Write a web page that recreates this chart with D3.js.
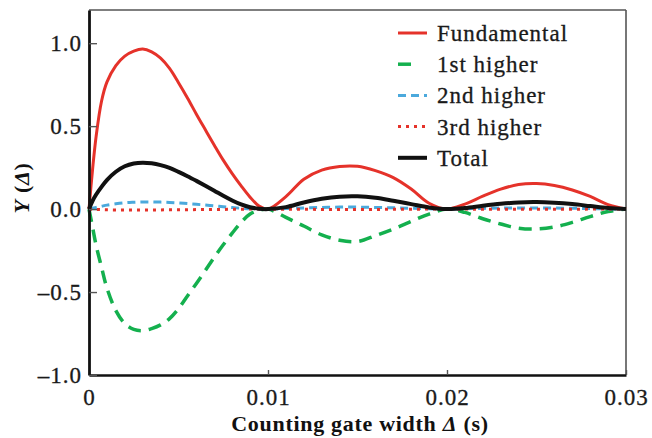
<!DOCTYPE html>
<html>
<head>
<meta charset="utf-8">
<script src="https://cdn.jsdelivr.net/npm/d3@7"></script>
<style>
  body { margin: 0; background: #fff; }
  svg { display: block; }
  svg text { font-family: "Liberation Serif", "Times New Roman", Times, serif; }
</style>
</head>
<body>
<svg id="chart" width="652" height="438"></svg>
<script>
// counting gate width (s)
const gateWidth = [0, 0.0002, 0.0004, 0.0007, 0.001, 0.0015, 0.002, 0.0025, 0.003, 0.0035, 0.004,
  0.0045, 0.005, 0.0055, 0.006, 0.0065, 0.007, 0.0075, 0.008, 0.0085, 0.009, 0.0095, 0.01,
  0.011, 0.012, 0.013, 0.014, 0.015, 0.016, 0.017, 0.018, 0.019, 0.02,
  0.021, 0.022, 0.023, 0.024, 0.025, 0.026, 0.027, 0.028, 0.029, 0.03];

const fundamental = [0, 0.24, 0.44, 0.65, 0.765, 0.865, 0.922, 0.952, 0.965, 0.948, 0.91,
  0.848, 0.762, 0.67, 0.572, 0.478, 0.385, 0.295, 0.214, 0.14, 0.072, 0.018, 0,
  0.075, 0.18, 0.235, 0.257, 0.258, 0.232, 0.19, 0.121, 0.035, 0,
  0.03, 0.078, 0.12, 0.148, 0.154, 0.142, 0.115, 0.076, 0.027, 0];

const firstHigher = [0, -0.11, -0.22, -0.35, -0.475, -0.612, -0.69, -0.725, -0.733, -0.72, -0.698,
  -0.66, -0.6, -0.524, -0.448, -0.37, -0.29, -0.215, -0.145, -0.08, -0.03, -0.008, 0,
  -0.05, -0.102, -0.155, -0.188, -0.196, -0.16, -0.12, -0.074, -0.03, 0,
  -0.02, -0.058, -0.09, -0.115, -0.12, -0.108, -0.08, -0.045, -0.015, 0];

const secondHigher = [0, 0.005, 0.01, 0.017, 0.024, 0.032, 0.038, 0.041, 0.043, 0.043, 0.042,
  0.04, 0.037, 0.033, 0.029, 0.024, 0.019, 0.014, 0.009, 0.005, 0.002, 0.001, 0,
  0.003, 0.007, 0.01, 0.012, 0.012, 0.01, 0.008, 0.005, 0.002, 0,
  0.002, 0.004, 0.006, 0.007, 0.007, 0.006, 0.005, 0.003, 0.001, 0];

const thirdHigher = [0, -0.001, -0.002, -0.003, -0.004, -0.005, -0.005, -0.005, -0.005, -0.005, -0.005,
  -0.004, -0.004, -0.004, -0.003, -0.003, -0.002, -0.002, -0.001, -0.001, 0, 0, 0,
  -0.001, -0.001, -0.002, -0.002, -0.002, -0.002, -0.001, -0.001, 0, 0,
  0, -0.001, -0.001, -0.001, -0.001, -0.001, -0.001, 0, 0, 0];

const total = [0, 0.05, 0.088, 0.134, 0.175, 0.225, 0.258, 0.275, 0.28, 0.276, 0.265,
  0.248, 0.224, 0.198, 0.17, 0.141, 0.111, 0.08, 0.052, 0.028, 0.011, 0.002, 0,
  0.012, 0.04, 0.062, 0.075, 0.077, 0.068, 0.05, 0.03, 0.01, 0,
  0.006, 0.02, 0.032, 0.04, 0.042, 0.038, 0.03, 0.018, 0.006, 0];

const xTicks = [0, 0.01, 0.02, 0.03];
const xTickLabels = ["0", "0.01", "0.02", "0.03"];
const yTicks = [-1, -0.5, 0, 0.5, 1];
const yTickLabels = ["\u20131.0", "\u20130.5", "0.0", "0.5", "1.0"];

const seriesNames = ["Fundamental", "1st higher", "2nd higher", "3rd higher", "Total"];

const svg = d3.select("#chart");
const width = 652, height = 438;
const margin = {top: 10, right: 26, bottom: 63, left: 89};
const serif = "'Liberation Serif', 'Times New Roman', Times, serif";

const x = d3.scaleLinear([0, 0.03], [margin.left, width - margin.right]);
const y = d3.scaleLinear([-1, 1.2], [height - margin.bottom, margin.top]);

const styles = [
  {values: fundamental, color: "#e5322a", w: 3, dash: null},
  {values: firstHigher, color: "#14b04e", w: 3.5, dash: "13,8"},
  {values: secondHigher, color: "#4ba9dc", w: 3, dash: "8,5"},
  {values: thirdHigher, color: "#e5322a", w: 3, dash: "3,5"},
  {values: total, color: "#111", w: 4, dash: null}
];

// frame: light top/right, heavy left/bottom
svg.append("line").attr("x1", x(0)).attr("x2", x(0.03)).attr("y1", y(1.2)).attr("y2", y(1.2))
  .attr("stroke", "#555").attr("stroke-width", 1.6);
svg.append("line").attr("x1", x(0.03)).attr("x2", x(0.03)).attr("y1", y(1.2)).attr("y2", y(-1))
  .attr("stroke", "#555").attr("stroke-width", 1.6);

const line = d3.line().curve(d3.curveCatmullRom.alpha(0.5));

styles.forEach((s, k) => {
  svg.append("path")
    .datum(gateWidth.map((g, i) => [g, s.values[i]]))
    .attr("fill", "none")
    .attr("stroke", s.color)
    .attr("stroke-width", s.w)
    .attr("stroke-dasharray", s.dash)
    .attr("stroke-linejoin", "round")
    .attr("d", line.x(d => x(d[0])).y(d => y(d[1])));
});

// x axis
const xAxis = svg.append("g")
  .attr("transform", `translate(0,${y(-1)})`)
  .call(d3.axisBottom(x).tickValues(xTicks).tickSizeInner(-5).tickSizeOuter(0)
    .tickFormat((d, i) => xTickLabels[i]))
  .attr("font-family", serif);
xAxis.select(".domain").attr("stroke", "#111").attr("stroke-width", 2.6);
xAxis.selectAll(".tick line").attr("stroke", "#555").attr("stroke-width", 1.4);
xAxis.selectAll(".tick text")
  .attr("y", 14).attr("dy", "0.71em")
  .attr("font-size", 23).attr("letter-spacing", 1)
  .attr("fill", "#1a1a1a").attr("stroke", "#1a1a1a").attr("stroke-width", 0.3);

// y axis
const yAxis = svg.append("g")
  .attr("transform", `translate(${x(0)},0)`)
  .call(d3.axisLeft(y).tickValues(yTicks).tickSizeInner(-8).tickSizeOuter(0)
    .tickFormat((d, i) => yTickLabels[i]))
  .attr("font-family", serif);
yAxis.select(".domain").attr("stroke", "#111").attr("stroke-width", 2.8);
yAxis.selectAll(".tick line").attr("stroke", "#555").attr("stroke-width", 1.4);
yAxis.selectAll(".tick text")
  .attr("x", -7).attr("dy", "0.33em")
  .attr("font-size", 23).attr("letter-spacing", 1)
  .attr("fill", "#1a1a1a").attr("stroke", "#1a1a1a").attr("stroke-width", 0.3);

// axis titles
const xTitle = svg.append("text")
  .attr("x", 360).attr("y", 431)
  .attr("text-anchor", "middle")
  .attr("font-size", 22).attr("font-weight", "bold").attr("letter-spacing", 0.7).attr("fill", "#111");
xTitle.append("tspan").text("Counting gate width ");
xTitle.append("tspan").attr("font-style", "italic").text("\u0394");
xTitle.append("tspan").text(" (s)");

const yTitle = svg.append("text")
  .attr("transform", "translate(29,188) rotate(-90)")
  .attr("text-anchor", "middle")
  .attr("font-size", 22).attr("font-weight", "bold").attr("letter-spacing", 0.7).attr("fill", "#111");
yTitle.append("tspan").attr("font-style", "italic").text("Y");
yTitle.append("tspan").text(" (");
yTitle.append("tspan").attr("font-style", "italic").text("\u0394");
yTitle.append("tspan").text(")");

// legend
const legend = svg.append("g").attr("transform", "translate(398,33)");
const rowStep = 31.2;
styles.forEach((s, k) => {
  const row = legend.append("g").attr("transform", `translate(0,${k * rowStep})`);
  row.append("line")
    .attr("x1", 0).attr("x2", k === 1 ? 15 : 29).attr("y1", 0).attr("y2", 0)
    .attr("stroke", s.color).attr("stroke-width", s.w)
    .attr("stroke-dasharray", s.dash);
  row.append("text")
    .attr("x", 39).attr("y", 0).attr("dy", "0.35em")
    .attr("font-size", 23).attr("letter-spacing", 1)
    .attr("fill", "#1a1a1a").attr("stroke", "#1a1a1a").attr("stroke-width", 0.3)
    .text(seriesNames[k]);
});
</script>
</body>
</html>
